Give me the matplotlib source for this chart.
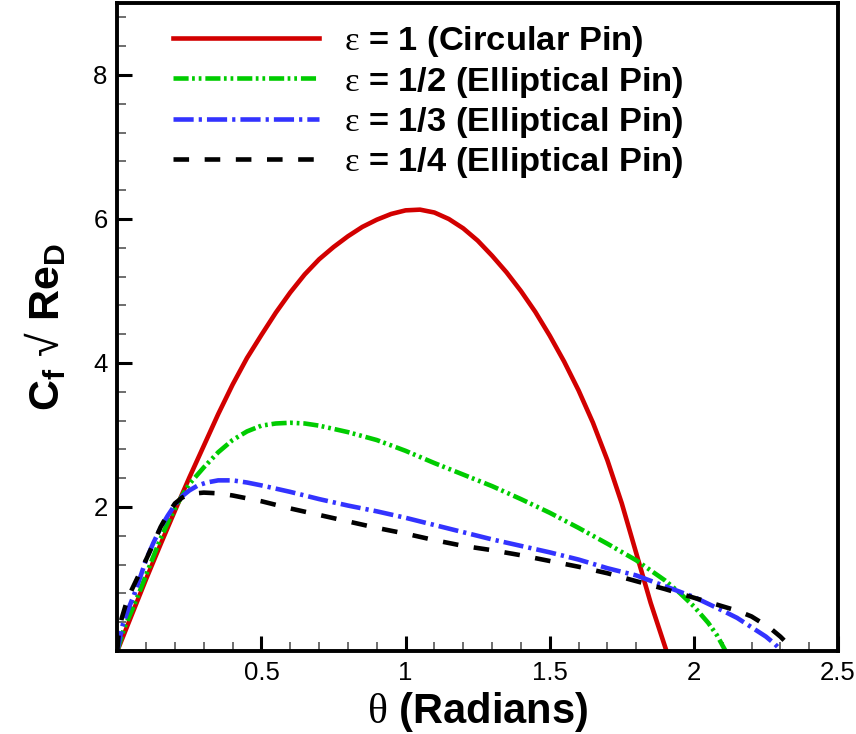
import numpy as np
import matplotlib
matplotlib.use('Agg')
import matplotlib.pyplot as plt
from matplotlib.ticker import MultipleLocator, FixedLocator

plt.rcParams['font.family'] = ['Liberation Sans', 'DejaVu Sans']
plt.rcParams['mathtext.fontset'] = 'custom'
plt.rcParams['mathtext.rm'] = 'Liberation Serif'
plt.rcParams['mathtext.bf'] = 'Liberation Sans:bold'

# eps = 1 (circular pin)
theta_1 = [0, 0.05, 0.1, 0.15, 0.2, 0.25, 0.3, 0.35, 0.4, 0.45, 0.5, 0.55, 0.6,
           0.65, 0.7, 0.75, 0.8, 0.85, 0.9, 0.95, 1.0, 1.05, 1.1, 1.15, 1.2,
           1.25, 1.3, 1.35, 1.4, 1.45, 1.5, 1.55, 1.6, 1.65, 1.7, 1.75, 1.8,
           1.85, 1.905]
cf_1 = [0, 0.5, 1.0, 1.48, 1.95, 2.41, 2.85, 3.29, 3.7, 4.07, 4.39, 4.7, 4.98,
        5.23, 5.44, 5.61, 5.76, 5.89, 5.99, 6.07, 6.12, 6.13, 6.09, 6.0, 5.87,
        5.7, 5.49, 5.26, 5.0, 4.71, 4.38, 4.02, 3.62, 3.17, 2.65, 2.05, 1.36,
        0.67, 0.0]

# eps = 1/2
theta_2 = [0, 0.025, 0.05, 0.075, 0.1, 0.125, 0.15, 0.175, 0.2, 0.225, 0.25,
           0.3, 0.35, 0.4, 0.45, 0.5, 0.55, 0.6, 0.65, 0.7, 0.8, 0.9, 1.0, 1.1,
           1.2, 1.3, 1.4, 1.5, 1.6, 1.7, 1.8, 1.85, 1.9, 1.95, 2.0, 2.05, 2.08,
           2.11]
cf_2 = [0, 0.33, 0.56, 0.8, 1.06, 1.31, 1.56, 1.78, 1.98, 2.16, 2.32,
        2.55, 2.76, 2.93, 3.05, 3.13, 3.16, 3.17, 3.16, 3.13, 3.04, 2.93, 2.78,
        2.61, 2.45, 2.29, 2.11, 1.92, 1.71, 1.49, 1.26, 1.12, 0.98, 0.81, 0.62,
        0.39, 0.22, 0.0]

# eps = 1/3
theta_3 = [0, 0.01, 0.02, 0.04, 0.06, 0.08, 0.1, 0.125, 0.15, 0.175, 0.2, 0.225,
           0.25, 0.28, 0.31, 0.35, 0.4, 0.45, 0.5, 0.6, 0.7, 0.8, 0.9, 1.0, 1.1,
           1.2, 1.3, 1.4, 1.5, 1.6, 1.7, 1.8, 1.9, 2.0, 2.1, 2.15, 2.2, 2.25,
           2.28, 2.305]
cf_3 = [0, 0.2, 0.38, 0.6, 0.8, 1.03, 1.27, 1.5, 1.71, 1.88, 2.03, 2.15,
        2.23, 2.3, 2.34, 2.37, 2.37, 2.34, 2.3, 2.21, 2.11, 2.02, 1.94, 1.85, 1.75,
        1.65, 1.55, 1.46, 1.37, 1.27, 1.15, 1.05, 0.9, 0.75, 0.56, 0.46, 0.33, 0.2,
        0.1, 0.0]

# eps = 1/4
theta_4 = [0, 0.005, 0.015, 0.03, 0.05, 0.075, 0.1, 0.125, 0.15, 0.175, 0.2,
           0.225, 0.25, 0.3, 0.35, 0.4, 0.5, 0.6, 0.7, 0.8, 0.9, 1.0, 1.1, 1.2,
           1.3, 1.4, 1.5, 1.6, 1.7, 1.8, 1.9, 2.0, 2.1, 2.15, 2.2, 2.24, 2.27,
           2.3, 2.32]
cf_4 = [0, 0.25, 0.45, 0.65, 0.85, 1.06, 1.27, 1.49, 1.72, 1.9, 2.05,
        2.13, 2.18, 2.2, 2.19, 2.16, 2.08, 1.98, 1.89, 1.8, 1.71, 1.63, 1.54, 1.46,
        1.4, 1.33, 1.25, 1.17, 1.08, 0.97, 0.86, 0.74, 0.62, 0.56, 0.48, 0.38, 0.3,
        0.2, 0.12]

labels = [r'$\mathrm{ε}$ = 1 (Circular Pin)',
          r'$\mathrm{ε}$ = 1/2 (Elliptical Pin)',
          r'$\mathrm{ε}$ = 1/3 (Elliptical Pin)',
          r'$\mathrm{ε}$ = 1/4 (Elliptical Pin)']

x_ticks = [0.5, 1, 1.5, 2, 2.5]
x_ticklabels = ['0.5', '1', '1.5', '2', '2.5']
y_ticks = [2, 4, 6, 8]
y_ticklabels = ['2', '4', '6', '8']

fig = plt.figure(figsize=(8.56, 7.34), dpi=100)
ax = fig.add_axes([117.3 / 856, 83 / 734, 720.7 / 856, 648 / 734])

ax.plot(theta_1, cf_1, color='#d20000', lw=3.3, label=labels[0])
ax.plot(theta_2, cf_2, color='#00cc00', lw=3.3,
        linestyle=(0, (3.3, 0.75, 0.6, 0.85, 0.6, 0.85)), label=labels[1])
ax.plot(theta_3, cf_3, color='#3333ff', lw=3.3,
        linestyle=(0, (4.4, 1.1, 0.7, 1.1)), label=labels[2])
ax.plot(theta_4, cf_4, color='black', lw=3.3,
        linestyle=(0, (3.4, 3.4)), label=labels[3])

ax.set_xlim(0, 2.5)
ax.set_ylim(0, 9)

ax.xaxis.set_major_locator(FixedLocator(x_ticks))
ax.set_xticklabels(x_ticklabels)
ax.xaxis.set_minor_locator(MultipleLocator(0.1))
ax.yaxis.set_major_locator(FixedLocator(y_ticks))
ax.set_yticklabels(y_ticklabels)
ax.yaxis.set_minor_locator(MultipleLocator(0.4))

ax.tick_params(which='both', direction='in', top=False, right=False,
               labelsize=18.5, pad=7)
ax.tick_params(which='major', length=11, width=2.2)
ax.tick_params(which='minor', length=6.5, width=1.2, color='#555555')

for s in ax.spines.values():
    s.set_linewidth(2.8)

ax.set_xlabel(r'$\mathrm{θ}$ (Radians)', fontsize=30, fontweight='bold', labelpad=4)
ax.set_ylabel(r'$\mathbf{C_f}$ √ $\mathbf{Re_D}$', fontsize=31, labelpad=18)

leg = ax.legend(loc='upper left', bbox_to_anchor=(0.077, 0.967), frameon=False,
                borderpad=0, borderaxespad=0, handlelength=4.24, handletextpad=0.72,
                labelspacing=0.15, prop={'size': 24.8, 'weight': 'bold'})

fig.savefig('out.png', dpi=100)
